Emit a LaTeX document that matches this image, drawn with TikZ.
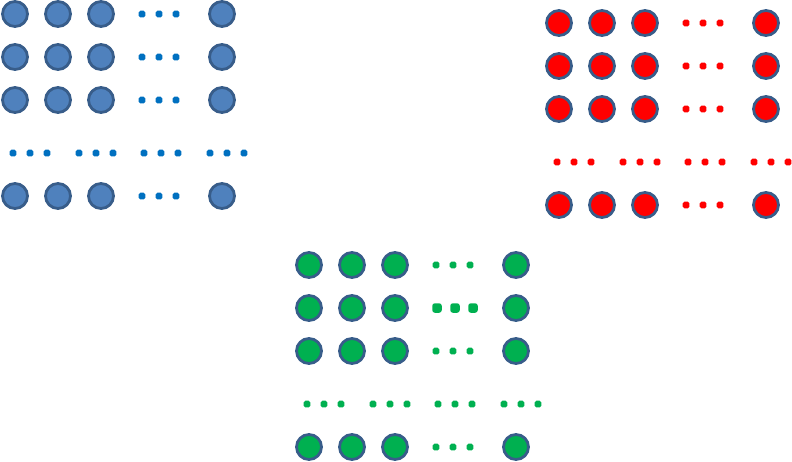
\documentclass[tikz,border=0pt]{standalone}
\usepackage{xcolor}
\usepackage{tikz}
\usetikzlibrary{positioning}
\definecolor{ringblue}{RGB}{56,93,138}
\definecolor{cellblue}{RGB}{79,129,189}
\definecolor{dotblue}{RGB}{0,112,192}
\definecolor{cellred}{RGB}{255,0,0}
\definecolor{cellgreen}{RGB}{0,176,80}
\tikzset{
  cell/.style={circle, draw=ringblue, line width=2.8pt, minimum size=25pt, inner sep=0pt},
  gap/.style={rectangle, rounded corners=1.8pt, minimum size=6.8pt, inner sep=0pt},
  biggap/.style={gap, minimum size=9.5pt, rounded corners=2.6pt}
}
% one grid: shift x, shift y, cell colour, dot colour, name prefix,
% dot style, first x and spacing of the dots in row 2
\newcommand{\cellgrid}[8]{%
  \begin{scope}[shift={(#1,#2)}, name prefix=#5-]
    \foreach \r/\y in {1/14,2/57,3/100,4/196}
      \foreach \c/\x in {1/15,2/58,3/101,4/222}
        \node[cell, fill=#3] (c\r\c) at (\x,\y) {};
    % dots between columns 3 and 4
    \foreach \r/\y in {1/14,3/100,4/196}
      \foreach \k/\x in {1/142,2/159,3/176}
        \node[gap, fill=#4] (h\r\k) at (\x,\y) {};
    \foreach \k in {0,1,2}
      \node[#6, fill=#4] (h2\k) at (#7+\k*#8,57) {};
    % dots between rows 3 and 4
    \foreach \g/\x in {1/13,2/79,3/144,4/210}
      \foreach \k in {0,1,2}
        \node[gap, fill=#4] (v\g\k) at (\x+17*\k,153) {};
  \end{scope}}

\begin{document}
\begin{tikzpicture}[x=1pt, y=-1pt]
  \useasboundingbox (0,0) rectangle (792,461);
  \cellgrid{0}{0}{cellblue}{dotblue}{blue}{gap}{142}{17}
  \cellgrid{544}{9}{cellred}{cellred}{red}{gap}{142}{17}
  \cellgrid{294}{251}{cellgreen}{cellgreen}{green}{biggap}{143}{18}
\end{tikzpicture}
\end{document}
